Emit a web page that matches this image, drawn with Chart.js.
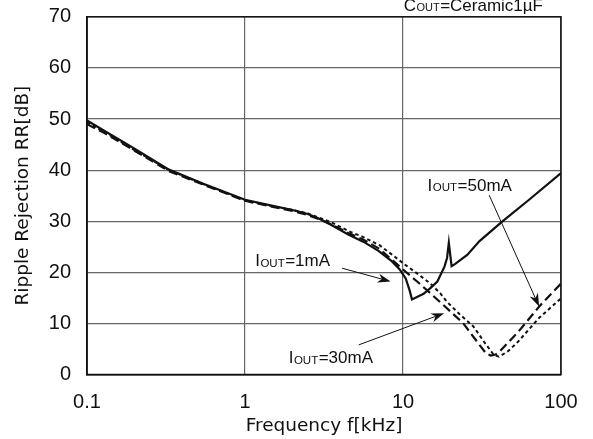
<!DOCTYPE html>
<html>
<head>
<meta charset="utf-8">
<script src="https://cdn.jsdelivr.net/npm/chart.js@4.4.1/dist/chart.umd.min.js"></script>
<style>
    html, body { margin: 0; padding: 0; background: #fff; }
    #wrap { width: 593px; height: 439px; }
</style>
</head>
<body>
<div id="wrap"><canvas id="chart"></canvas></div>
<script>
// tick values
const freqTicks = [0.1, 1, 10, 100];
const rrTicks = [0, 10, 20, 30, 40, 50, 60, 70];

// IOUT=1mA (solid)
const freq1mA = [0.1, 0.13, 0.2, 0.33, 0.55, 1.0, 1.5, 2.0, 2.5, 3.0, 3.5, 4.5, 5.6, 7.0, 8.4, 9.5, 10.4, 11.0, 11.4, 13.5, 14.9, 16.5, 18.3, 19.0, 19.5, 20.3, 21.3, 25.5, 30.5, 42.4, 62.8, 100];
const rr1mA = [49.7, 47.6, 44.2, 40.1, 37.3, 34.2, 33.0, 32.2, 31.4, 30.4, 29.3, 27.4, 26.0, 24.2, 22.3, 20.6, 18.8, 16.5, 14.7, 15.8, 16.9, 18.2, 21.1, 22.8, 25.8, 21.2, 21.6, 23.4, 26.1, 29.9, 34.2, 39.4];

// IOUT=30mA (dotted)
const freq30mA = [0.1, 0.13, 0.2, 0.33, 0.55, 1.0, 1.5, 2.0, 2.5, 3.0, 3.5, 4.65, 5.6, 7.1, 8.4, 10.4, 12.5, 14.9, 17.2, 19.0, 23.0, 27.9, 32.6, 37.6, 40.5, 46.0, 53.8, 72.8, 100];
const rr30mA = [49.3, 47.4, 43.9, 40.0, 37.2, 34.1, 32.9, 32.2, 31.5, 30.6, 29.8, 27.9, 26.9, 25.3, 23.6, 21.4, 19.6, 17.8, 15.9, 14.2, 11.7, 9.4, 6.4, 3.8, 3.5, 4.5, 6.5, 11.1, 14.9];

// IOUT=50mA (dashed)
const freq50mA = [0.1, 0.13, 0.2, 0.33, 0.55, 1.0, 1.5, 2.0, 2.5, 3.0, 3.5, 4.5, 5.6, 7.1, 8.4, 10.4, 12.5, 14.9, 18.3, 24.1, 29.8, 33.6, 36.0, 38.5, 40.9, 53.8, 72.8, 100];
const rr50mA = [49.0, 47.2, 43.8, 39.8, 37.1, 34.0, 32.8, 32.0, 31.2, 30.3, 29.4, 27.7, 26.4, 24.6, 22.6, 20.1, 18.0, 15.9, 13.4, 10.0, 6.2, 4.1, 3.7, 3.9, 4.5, 8.4, 13.3, 17.8];

// labels with arrows, in data units [kHz, dB]
const notes = [
    { text: "=1mA", at: [1.16, 21.2], from: [4.12, 20.8], to: [8.35, 18.2] },
    { text: "=30mA", at: [1.89, 2.2], from: [5.25, 5.8], to: [18.2, 12.0] },
    { text: "=50mA", at: [14.3, 36.0], from: [35.1, 35.1], to: [72.7, 13.3] },
];

const font = '"Liberation Sans", Arial, sans-serif';
const titleFont = '"DejaVu Sans", sans-serif';

const toPoints = (xs, ys) => xs.map((x, i) => ({ x: x, y: ys[i] }));

// "I" + small "OUT" + rest
const drawSubLabel = (ctx, x, y, head, tail, size, subSize, alignRight) => {
    const main = `${size}px ${font}`;
    const small = `${subSize}px ${font}`;
    ctx.font = main;
    const w1 = ctx.measureText(head).width;
    const w3 = ctx.measureText(tail).width;
    ctx.font = small;
    const w2 = ctx.measureText("OUT").width;
    let start = alignRight ? x - (w1 + w2 + w3 + 1) : x;
    ctx.textAlign = "left";
    ctx.textBaseline = "alphabetic";
    ctx.fillStyle = "#111";
    ctx.font = main;
    ctx.fillText(head, start, y);
    ctx.font = small;
    ctx.fillText("OUT", start + w1 + 0.5, y + 0.5);
    ctx.font = main;
    ctx.fillText(tail, start + w1 + w2 + 1, y);
};

const drawArrow = (ctx, x1, y1, x2, y2) => {
    const ang = Math.atan2(y2 - y1, x2 - x1);
    const len = 13;
    const half = 4.5;
    ctx.strokeStyle = "#111";
    ctx.lineWidth = 1;
    ctx.beginPath();
    ctx.moveTo(x1, y1);
    ctx.lineTo(x2 - Math.cos(ang) * len * 0.7, y2 - Math.sin(ang) * len * 0.7);
    ctx.stroke();
    ctx.fillStyle = "#111";
    ctx.beginPath();
    ctx.moveTo(x2, y2);
    ctx.lineTo(x2 - Math.cos(ang) * len + Math.sin(ang) * half, y2 - Math.sin(ang) * len - Math.cos(ang) * half);
    ctx.lineTo(x2 - Math.cos(ang) * len * 0.7, y2 - Math.sin(ang) * len * 0.7);
    ctx.lineTo(x2 - Math.cos(ang) * len - Math.sin(ang) * half, y2 - Math.sin(ang) * len + Math.cos(ang) * half);
    ctx.closePath();
    ctx.fill();
};

const notesPlugin = {
    id: "notes",
    afterDatasetsDraw(chart) {
        const ctx = chart.ctx;
        const xs = chart.scales.x;
        const ys = chart.scales.y;
        const area = chart.chartArea;
        ctx.save();

        // plot frame
        ctx.strokeStyle = "#111";
        ctx.lineWidth = 1.5;
        ctx.strokeRect(area.left, area.top, area.right - area.left, area.bottom - area.top);

        notes.forEach((n) => {
            drawSubLabel(ctx, xs.getPixelForValue(n.at[0]), ys.getPixelForValue(n.at[1]), "I", n.text, 17, 11.5, false);
            drawArrow(ctx,
                xs.getPixelForValue(n.from[0]), ys.getPixelForValue(n.from[1]),
                xs.getPixelForValue(n.to[0]), ys.getPixelForValue(n.to[1]));
        });

        drawSubLabel(ctx, area.right - 18, area.top - 6, "C", "=Ceramic1\u00b5F", 17, 11, true);
        ctx.restore();
    },
};

const lineSet = (label, data, dash, width) => ({
    label: label,
    data: data,
    borderColor: "#111",
    borderWidth: width,
    borderDash: dash,
    pointRadius: 0,
    tension: 0,
    fill: false,
});

const noScalePadding = (scale) => {
    scale.paddingTop = 0;
    scale.paddingBottom = 0;
    scale.paddingLeft = 0;
    scale.paddingRight = 0;
};

const options = {
    type: "line",
    data: {
        datasets: [
            lineSet("IOUT=1mA", toPoints(freq1mA, rr1mA), [], 2.2),
            lineSet("IOUT=30mA", toPoints(freq30mA, rr30mA), [3.5, 3], 2),
            lineSet("IOUT=50mA", toPoints(freq50mA, rr50mA), [9, 4.5], 2.2),
        ],
    },
    options: {
        responsive: true,
        maintainAspectRatio: false,
        animation: false,
        layout: {
            padding: { top: 16.8, right: 32, left: 0, bottom: 0 },
        },
        plugins: {
            legend: { display: false },
            tooltip: { enabled: false },
        },
        scales: {
            x: {
                type: "logarithmic",
                min: 0.1,
                max: 100,
                afterBuildTicks: (scale) => {
                    scale.ticks = freqTicks.map((v) => ({ value: v }));
                },
                afterFit: (scale) => {
                    scale.height = 64.5;
                    noScalePadding(scale);
                },
                ticks: {
                    autoSkip: false,
                    maxRotation: 0,
                    padding: 16,
                    color: "#111",
                    font: { family: font, size: 20 },
                    callback: (v) => (v < 1 ? v.toFixed(1) : String(v)),
                },
                grid: {
                    color: "#666",
                    lineWidth: 1.2,
                    drawTicks: false,
                },
                border: { color: "#111", width: 1.5 },
                title: {
                    display: true,
                    text: "Frequency f[kHz]",
                    color: "#111",
                    padding: { top: 0, bottom: 2 },
                    font: { family: titleFont, size: 18.5 },
                },
            },
            y: {
                type: "linear",
                min: 0,
                max: 70,
                afterBuildTicks: (scale) => {
                    scale.ticks = rrTicks.map((v) => ({ value: v }));
                },
                afterFit: (scale) => {
                    scale.width = 87;
                    noScalePadding(scale);
                },
                ticks: {
                    padding: 16,
                    color: "#111",
                    font: { family: font, size: 20 },
                },
                grid: {
                    color: "#666",
                    lineWidth: 1.2,
                    drawTicks: false,
                },
                border: { color: "#111", width: 1.5 },
                title: {
                    display: true,
                    text: "Ripple Rejection RR[dB]",
                    color: "#111",
                    padding: { top: 12, bottom: 0 },
                    font: { family: titleFont, size: 18.5 },
                },
            },
        },
    },
    plugins: [notesPlugin],
};

new Chart(document.getElementById("chart"), options);
</script>
</body>
</html>
